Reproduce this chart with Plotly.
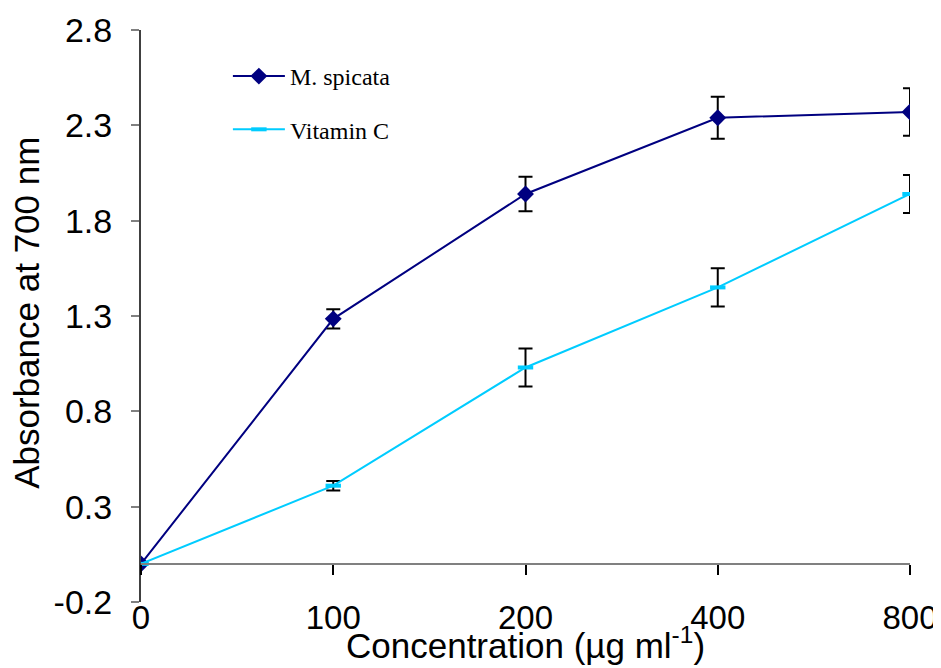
import plotly.graph_objects as go

categories = ["0", "100", "200", "400", "800"]
spicata = [0.0, 1.285, 1.94, 2.34, 2.37]
spicata_err = [0.0, 0.05, 0.09, 0.11, 0.125]
vitc = [0.0, 0.41, 1.03, 1.45, 1.94]
vitc_err = [0.0, 0.025, 0.10, 0.10, 0.10]
yticks = [-0.2, 0.3, 0.8, 1.3, 1.8, 2.3, 2.8]

fig = go.Figure()
fig.add_trace(go.Scatter(
    x=categories, y=spicata, name="M. spicata", mode="lines+markers",
    line=dict(color="#000080", width=2),
    marker=dict(symbol="diamond", size=13, color="#000080"),
    error_y=dict(type="data", array=spicata_err, color="black", thickness=2, width=7),
    legendgroup="a",
))
fig.add_trace(go.Scatter(
    x=categories, y=vitc, name="Vitamin C", mode="lines+markers",
    line=dict(color="#00CCFF", width=2),
    marker=dict(symbol="line-ew", size=11, color="#00CCFF",
                line=dict(color="#00CCFF", width=4)),
    error_y=dict(type="data", array=vitc_err, color="black", thickness=2, width=7),
    legendgroup="b",
))
# helper trace to host the zero-line axis
fig.add_trace(go.Scatter(x=categories, y=[None] * len(categories), xaxis="x2",
                         showlegend=False, hoverinfo="skip", mode="lines"))

font = "Liberation Sans, Arial, sans-serif"
fig.update_layout(
    width=933, height=660,
    margin=dict(l=133, r=31, t=22, b=66, autoexpand=False),
    plot_bgcolor="white", paper_bgcolor="white",
    showlegend=True,
    legend=dict(x=0.113, y=0.958, xanchor="left", yanchor="top",
                font=dict(family="Liberation Serif, Times New Roman, serif", size=24, color="black"),
                itemwidth=52, tracegroupgap=19, bgcolor="rgba(0,0,0,0)"),
    xaxis=dict(type="category", categoryarray=categories, range=[0, 4], automargin=False,
               showgrid=False, zeroline=False, showline=False, ticks="",
               ticklabelstandoff=-7,
               tickfont=dict(family=font, size=33, color="black")),
    xaxis2=dict(type="category", categoryarray=categories, range=[0, 4],
                overlaying="x", anchor="free", position=0.2 / 3, side="bottom",
                showgrid=False, zeroline=False, showline=True, linecolor="#808080", linewidth=2,
                ticks="outside", ticklen=10, tickwidth=1.5, tickcolor="black",
                showticklabels=False),
    yaxis=dict(range=[-0.2, 2.8], tickvals=yticks, ticktext=[f"{v:.1f}" for v in yticks],
               automargin=False,
               showgrid=False, zeroline=False, showline=True, linecolor="#404040", linewidth=2,
               ticks="outside", ticklen=8, tickwidth=1.5, tickcolor="#808080",
               ticklabelstandoff=12,
               tickfont=dict(family=font, size=34, color="black")),
    annotations=[
        dict(text="Concentration (µg ml<sup>-1</sup>)", xref="paper", yref="paper",
             x=0.5, y=-0.072, xanchor="center", yanchor="middle", showarrow=False,
             font=dict(family=font, size=35, color="black")),
        dict(text="Absorbance at 700 nm", xref="paper", yref="paper",
             x=-0.15, y=0.505, xanchor="center", yanchor="middle", showarrow=False,
             textangle=-90, font=dict(family=font, size=35, color="black")),
    ],
)

fig.write_html("out.html")
